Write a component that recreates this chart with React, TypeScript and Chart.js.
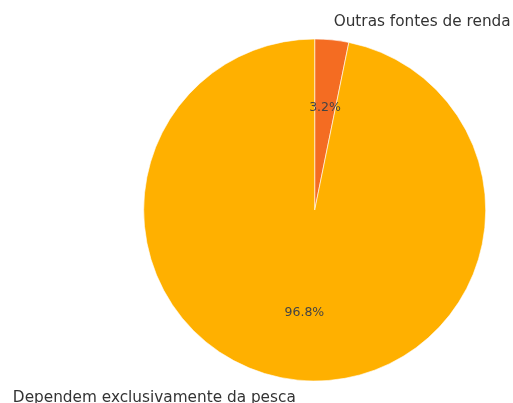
import React, { useEffect, useRef } from "react";
import { Chart, registerables } from "chart.js";

Chart.register(...registerables);

const categories = ["Outras fontes de renda", "Dependem exclusivamente da pesca"];
const values = [3.2, 96.8];
const colors = ["#F46C22", "#FFB000"];

const labelPlugin = {
  id: "pieLabels",
  afterDatasetsDraw(chart: any) {
    const ctx = chart.ctx;
    const meta = chart.getDatasetMeta(0);
    const total = values.reduce((a, b) => a + b, 0);
    ctx.save();
    ctx.textBaseline = "middle";
    meta.data.forEach((arc: any, i: number) => {
      const { x, y, startAngle, endAngle, outerRadius } = arc.getProps(
        ["x", "y", "startAngle", "endAngle", "outerRadius"],
        true
      );
      const mid = (startAngle + endAngle) / 2;
      const r = outerRadius + 0.5;
      // percentage
      const px = x + Math.cos(mid) * r * 0.6;
      const py = y + Math.sin(mid) * r * 0.6;
      ctx.font = "12.5px 'DejaVu Sans'";
      ctx.fillStyle = "#444444";
      ctx.textAlign = "center";
      ctx.fillText(((values[i] / total) * 100).toFixed(1) + "%", px, py);
      // outer label
      const lx = x + Math.cos(mid) * r * 1.1;
      const ly = y + Math.sin(mid) * r * 1.1;
      ctx.font = "15.3px 'DejaVu Sans'";
      ctx.fillStyle = "#333333";
      ctx.textAlign = Math.cos(mid) >= 0 ? "left" : "right";
      ctx.fillText(categories[i], lx, ly);
    });
    ctx.restore();
  },
};

export default function App() {
  const ref = useRef<HTMLCanvasElement>(null);
  useEffect(() => {
    if (!ref.current) return;
    const chart = new Chart(ref.current, {
      type: "pie",
      data: {
        labels: categories,
        datasets: [
          {
            data: values,
            backgroundColor: colors,
            borderColor: "#ffffff",
            borderWidth: 0.6,
          },
        ],
      },
      options: {
        animation: false,
        responsive: false,
        maintainAspectRatio: false,
        layout: { padding: { left: 143.2, right: 26.8, top: 38.7, bottom: 21.7 } },
        plugins: {
          legend: { display: false },
          tooltip: { enabled: false },
        },
      },
      plugins: [labelPlugin],
    });
    return () => chart.destroy();
  }, []);
  return (
    <div style={{ position: "fixed", left: 0, top: 0, width: 513, height: 403, background: "#fff" }}>
      <canvas ref={ref} width={513} height={403} style={{ width: 513, height: 403 }} />
    </div>
  );
}
